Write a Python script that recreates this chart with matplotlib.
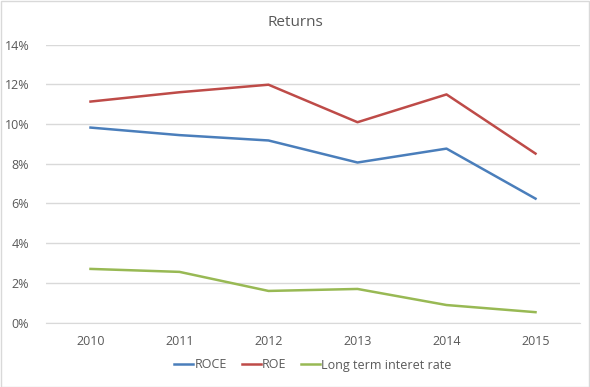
import matplotlib
matplotlib.use("Agg")
import matplotlib.pyplot as plt
from matplotlib.ticker import FuncFormatter, MultipleLocator

years = ["2010", "2011", "2012", "2013", "2014", "2015"]
roce = [9.82, 9.44, 9.17, 8.06, 8.76, 6.24]
roe = [11.13, 11.60, 11.98, 10.09, 11.49, 8.51]
long_rate = [2.70, 2.55, 1.59, 1.69, 0.88, 0.52]

plt.rcParams['font.family'] = ['Open Sans', 'DejaVu Sans']

fig = plt.figure(figsize=(5.9, 3.87), dpi=100)
W, H = 590, 387
ax = fig.add_axes([46 / W, 1 - 322.5 / H, (580 - 46) / W, (322.5 - 44.6) / H])

x = list(range(len(years)))
ax.plot(x, roce, color="#4A7EBB", lw=1.8, label="ROCE", solid_joinstyle="round")
ax.plot(x, roe, color="#BE4B48", lw=1.8, label="ROE", solid_joinstyle="round")
ax.plot(x, long_rate, color="#98B954", lw=1.8, label="Long term interet rate", solid_joinstyle="round")

ax.set_xlim(-0.5, len(years) - 0.5)
ax.set_ylim(0, 14)
ax.yaxis.set_major_locator(MultipleLocator(2))
ax.yaxis.set_major_formatter(FuncFormatter(lambda v, p: f"{v:.0f}%"))
ax.set_xticks(x)
ax.set_xticklabels(years)
ax.grid(axis="y", color="#D9D9D9", lw=1)
ax.set_axisbelow(True)
for s in ["top", "right", "left"]:
    ax.spines[s].set_visible(False)
ax.spines["bottom"].set_color("#D9D9D9")
ax.tick_params(axis="both", length=0, labelsize=9, colors="#595959")
ax.tick_params(axis="y", pad=12)
ax.tick_params(axis="x", pad=9)

fig.text(0.5, 1 - 22 / H, "Returns", ha="center", va="center", fontsize=11, color="#595959")

leg = ax.legend(loc="center", bbox_to_anchor=(0.5, (322.5 - 365) / (322.5 - 44.6)), ncol=3, frameon=False,
                fontsize=9, handlelength=1.5, handletextpad=0.1, columnspacing=1.2, labelcolor="#595959")

border = plt.Rectangle((0.5 / W, 0.5 / H), 1 - 1.5 / W, 1 - 1.5 / H, transform=fig.transFigure,
                       fill=False, edgecolor="#D9D9D9", lw=1)
fig.patches.append(border)

fig.savefig("out.png", dpi=100)
